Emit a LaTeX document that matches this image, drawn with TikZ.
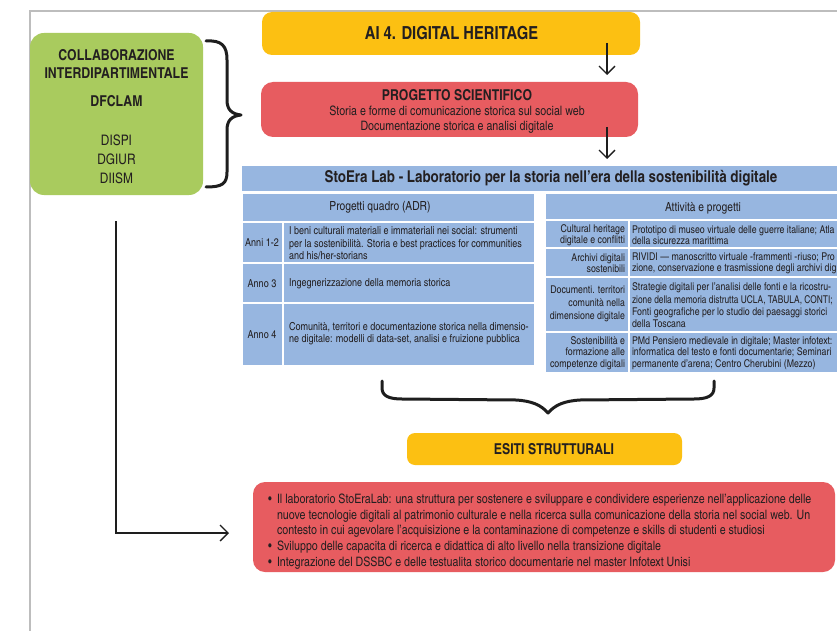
\documentclass[tikz,border=0pt]{standalone}
\usepackage{fontspec}
\usepackage{graphicx}
\setmainfont{texgyreheroscn}[Extension=.otf,UprightFont=*-regular,BoldFont=*-bold,ItalicFont=*-italic,BoldItalicFont=*-bolditalic]
\usetikzlibrary{arrows.meta}
\definecolor{cyel}{HTML}{FCC012}
\definecolor{cred}{HTML}{E75C60}
\definecolor{cgreen}{HTML}{A9CB5E}
\definecolor{cblue}{HTML}{97B6E0}
\definecolor{ctext}{HTML}{231F20}
\definecolor{cframe}{HTML}{BDBDBD}
\definecolor{carrow}{HTML}{1E1E1E}
\newcommand\fsz[2]{\fontsize{#1}{#2}\selectfont}
\begin{document}
\begin{tikzpicture}[x=1pt,y=-1pt,
  txt/.style={inner sep=0pt,outer sep=0pt,text=ctext},
  cell/.style={fill=cblue,inner sep=0pt,outer sep=0pt},
  rbox/.style={inner sep=0pt,outer sep=0pt,rounded corners=#1},
  arr/.style={draw=carrow,line width=1.3pt,-{Straight Barb[length=8pt,width=16pt]}},
  brc/.style={draw=carrow,line width=3pt,line cap=round,line join=round},
  body/.style={txt,font=\fsz{11}{12.5}},
  rbody/.style={txt,font=\fsz{10.7}{11.3}}]
\useasboundingbox (0,0) rectangle (837,631);
\clip (0,0) rectangle (837,631);
\fill[white] (0,0) rectangle (837,631);
\draw[cframe,line width=1.5pt] (30,640) -- (30,11) -- (845,11);

% green box
\node[rbox=14pt,fill=cgreen,minimum width=173pt,minimum height=162pt] (green) at (116.5,114) {};
\node[txt,font=\fsz{15}{18}\bfseries] (g1) at (116.5,55) {COLLABORAZIONE};
\node[txt,font=\fsz{15}{18}\bfseries] (g2) at (116.5,73) {INTERDIPARTIMENTALE};
\node[txt,font=\fsz{15}{18}\bfseries] (g3) at (116.5,101) {DFCLAM};
\node[txt,font=\fsz{14.5}{18}] (g4) at (116.5,140) {DISPI};
\node[txt,font=\fsz{14.5}{18}] (g5) at (116.5,159) {DGIUR};
\node[txt,font=\fsz{14.5}{18}] (g6) at (116.5,178) {DIISM};

% right brace
\draw[brc] (206,41) .. controls (222,40) and (227,46) .. (227,60) -- (227,100)
  .. controls (227,110) and (232,114) .. (241,115)
  .. controls (232,116) and (227,120) .. (227,130) -- (227,172)
  .. controls (227,184) and (222,187) .. (206,187);

% top boxes
\node[rbox=10pt,fill=cyel,minimum width=378pt,minimum height=43pt] (ai) at (451,33.5) {};
\node[txt,font=\fsz{18}{20}\bfseries] (aitxt) at (451.5,33) {AI 4. DIGITAL HERITAGE};
\node[rbox=12pt,fill=cred,minimum width=377pt,minimum height=55pt] (prog) at (449.5,109.5) {};
\node[txt,font=\fsz{15}{18}\bfseries] (progt) at (457,95) {PROGETTO SCIENTIFICO};
\node[txt,font=\fsz{13}{16}] (progs1) at (457,111) {Storia e forme di comunicazione storica sul social web};
\node[txt,font=\fsz{13}{16}] (progs2) at (457,127) {Documentazione storica e analisi digitale};

\coordinate (a1s) at (607,43);
\coordinate (a1e) at (607,75);
\coordinate (a2s) at (607,127);
\coordinate (a2e) at (607,159);
\draw[arr] (a1s) -- (a1e);
\draw[arr] (a2s) -- (a2e);

% StoEra bar
\node[cell,minimum width=619pt,minimum height=25pt] (stoera) at (551.5,178.5) {};
\node[txt,font=\fsz{16.3}{18}\bfseries] (stoerat) at (551,178) {StoEra Lab - Laboratorio per la storia nell'era della sostenibilità digitale};

% left table
\node[cell,minimum width=291pt,minimum height=27pt] (lh) at (388.5,207.5) {};
\node[cell,minimum width=39pt,minimum height=39pt] (l1a) at (262.5,242.5) {};
\node[cell,minimum width=250pt,minimum height=39pt] (l1b) at (409,242.5) {};
\node[cell,minimum width=39pt,minimum height=38pt] (l2a) at (262.5,283) {};
\node[cell,minimum width=250pt,minimum height=38pt] (l2b) at (409,283) {};
\node[cell,minimum width=39pt,minimum height=61pt] (l3a) at (262.5,334.5) {};
\node[cell,minimum width=250pt,minimum height=61pt] (l3b) at (409,334.5) {};

\node[txt,font=\fsz{12.5}{14}] (lht) at (380,207.5) {Progetti quadro (ADR)};
\node[body] (l1at) at (262,242.5) {Anni 1-2};
\node[body,align=left,anchor=west] (l1bt) at (289,243.5) {I beni culturali materiali e immateriali nei social: strumenti\\per la sostenibilità. Storia e best practices for communities\\and his/her-storians};
\node[body] (l2at) at (262,284) {Anno 3};
\node[body,anchor=west] (l2bt) at (289,284) {Ingegnerizzazione della memoria storica};
\node[body] (l3at) at (262,335) {Anno 4};
\node[body,align=left,anchor=west] (l3bt) at (289,333.5) {Comunità, territori e documentazione storica nella dimensio-\\ne digitale: modelli di data-set, analisi e fruizione pubblica};

% right table
\node[cell,minimum width=314pt,minimum height=25pt] (rh) at (703,206.5) {};
\node[cell,minimum width=82pt,minimum height=26pt] (r1a) at (587,234) {};
\node[cell,minimum width=230pt,minimum height=26pt] (r1b) at (745,234) {};
\node[cell,minimum width=82pt,minimum height=27pt] (r2a) at (587,262.5) {};
\node[cell,minimum width=230pt,minimum height=27pt] (r2b) at (745,262.5) {};
\node[cell,minimum width=82pt,minimum height=53pt] (r3a) at (587,304.5) {};
\node[cell,minimum width=230pt,minimum height=53pt] (r3b) at (745,304.5) {};
\node[cell,minimum width=82pt,minimum height=39pt] (r4a) at (587,352.5) {};
\node[cell,minimum width=230pt,minimum height=39pt] (r4b) at (745,352.5) {};

\node[txt,font=\fsz{12.5}{14}] (rht) at (703,208) {Attività e progetti};
\node[rbody,align=right,anchor=east] (r1at) at (625,235.5) {Cultural heritage\\digitale e conflitti};
\node[rbody,align=left,anchor=west] (r1bt) at (632,235.5) {Prototipo di museo virtuale delle guerre italiane; Atla\\della sicurezza marittima};
\node[rbody,align=right,anchor=east] (r2at) at (625,263.5) {Archivi digitali\\sostenibili};
\node[rbody,align=left,anchor=west] (r2bt) at (632,263.5) {RIVIDI — manoscritto virtuale -frammenti -riuso; Pro\\zione, conservazione e trasmissione degli archivi dig};
\node[txt,font=\fsz{10.7}{13},align=right,anchor=east] (r3at) at (625,304) {Documenti. territori\\comunità nella\\dimensione digitale};
\node[txt,font=\fsz{10.7}{12.3},align=left,anchor=west] (r3bt) at (632,305.5) {Strategie digitali per l'analisi delle fonti e la ricostru-\\\scalebox{0.95}[1]{zione della memoria distrutta UCLA, TABULA, CONTI;}\\Fonti geografiche per lo studio dei paesaggi storici\\della Toscana};
\node[rbody,align=right,anchor=east] (r4at) at (625,353) {Sostenibilità e\\formazione alle\\competenze digitali};
\node[rbody,align=left,anchor=west] (r4bt) at (632,353) {PMd Pensiero medievale in digitale; Master infotext:\\informatica del testo e fonti documentarie; Seminari\\permanente d'arena; Centro Cherubini (Mezzo)};

% bottom brace
\draw[brc] (382,381) -- (382,388) .. controls (382,396) and (389,399) .. (402,399)
  -- (516,400) .. controls (532,401) and (541,405) .. (548,413)
  .. controls (555,405) and (564,401) .. (580,400)
  -- (694,399) .. controls (707,399) and (714,396) .. (714,388) -- (714,381);

% esiti
\node[rbox=8pt,fill=cyel,minimum width=275pt,minimum height=32pt] (esiti) at (544.5,449) {};
\node[txt,font=\fsz{15}{18}\bfseries] (esitit) at (554,449) {ESITI STRUTTURALI};
\node[rbox=12pt,fill=cred,minimum width=582pt,minimum height=90pt] (esitibox) at (544,527) {};
\node[txt,font=\fsz{13}{15.7},align=left,anchor=west] (bul) at (268,531.5) {%
\makebox[9pt][l]{\textbullet}Il laboratorio StoEraLab: una struttura per sostenere e sviluppare e condividere esperienze nell'applicazione delle\\
\hspace*{9pt}nuove tecnologie digitali al patrimonio culturale e nella ricerca sulla comunicazione della storia nel social web. Un\\
\hspace*{9pt}contesto in cui agevolare l'acquisizione e la contaminazione di competenze e skills di studenti e studiosi\\
\makebox[9pt][l]{\textbullet}Sviluppo delle capacita di ricerca e didattica di alto livello nella transizione digitale\\
\makebox[9pt][l]{\textbullet}Integrazione del DSSBC e delle testualita storico documentarie nel master Infotext Unisi};

% L arrow
\coordinate (ls) at (116,221);
\coordinate (le) at (229,533);
\draw[arr] (ls) |- (le);
\end{tikzpicture}
\end{document}
